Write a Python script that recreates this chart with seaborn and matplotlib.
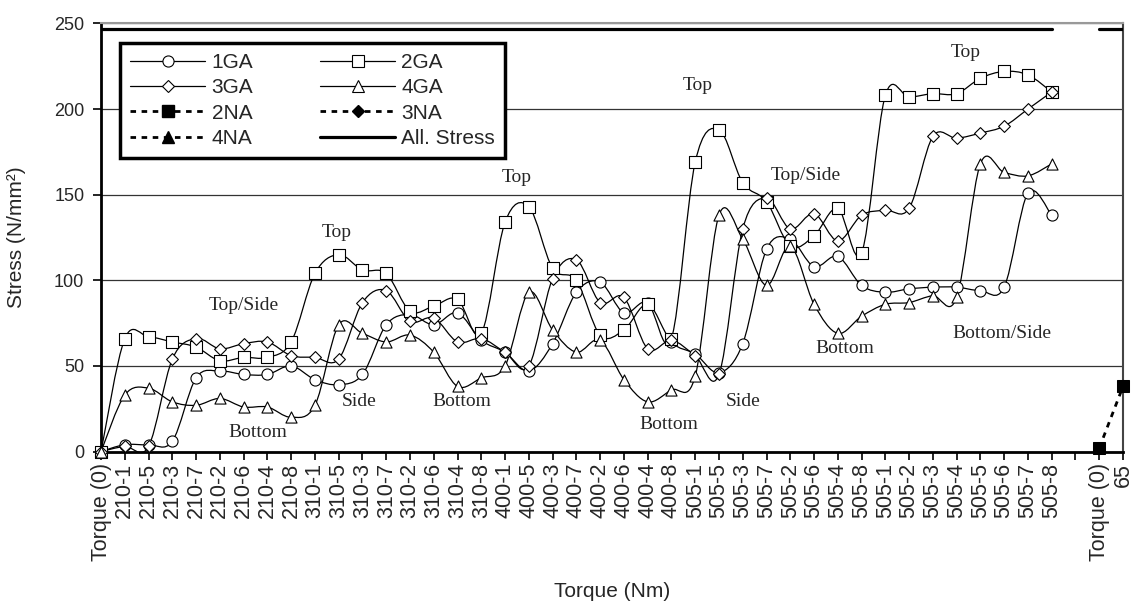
import numpy as np
import pandas as pd
import seaborn as sns
import matplotlib.pyplot as plt
from matplotlib.path import Path
from matplotlib.patches import PathPatch
from matplotlib.lines import Line2D

nan = np.nan

# x categories (one empty slot before the 65 Nm group)
cats = ['Torque (0)',
        '210-1', '210-5', '210-3', '210-7', '210-2', '210-6', '210-4', '210-8',
        '310-1', '310-5', '310-3', '310-7', '310-2', '310-6', '310-4', '310-8',
        '400-1', '400-5', '400-3', '400-7', '400-2', '400-6', '400-4', '400-8',
        '505-1', '505-5', '505-3', '505-7', '505-2', '505-6', '505-4', '505-8',
        '505-1', '505-2', '505-3', '505-4', '505-5', '505-6', '505-7', '505-8',
        '', 'Torque (0)', '65']

ga1 = [0, 4, 4, 6, 43, 47, 45, 45, 50,
       42, 39, 45, 74, 80, 74, 81, 65,
       58, 47, 63, 93, 99, 81, 87, 64,
       57, 46, 63, 118, 124, 108, 114, 97,
       93, 95, 96, 96, 94, 96, 151, 138, nan, nan, nan]
ga2 = [0, 66, 67, 64, 61, 53, 55, 55, 64,
       104, 115, 106, 104, 82, 85, 89, 69,
       134, 143, 107, 100, 68, 71, 86, 66,
       169, 188, 157, 146, 120, 126, 142, 116,
       208, 207, 209, 209, 218, 222, 220, 210, nan, nan, nan]
ga3 = [0, 3, 3, 54, 66, 60, 63, 64, 56,
       55, 54, 87, 94, 76, 78, 64, 66,
       58, 50, 101, 112, 87, 90, 60, 65,
       56, 45, 130, 148, 130, 139, 123, 138,
       141, 142, 184, 183, 186, 190, 200, 210, nan, nan, nan]
ga4 = [0, 33, 37, 29, 27, 31, 26, 26, 20,
       27, 74, 69, 64, 68, 58, 38, 43,
       50, 93, 71, 58, 65, 42, 29, 36,
       44, 138, 124, 97, 120, 86, 69, 79,
       86, 87, 91, 90, 168, 163, 161, 168, nan, nan, nan]
na2 = [nan] * 42 + [2, 38]
na3 = [nan] * 44
na4 = [nan] * 44
allow = [247] * 41 + [nan] + [247] * 2

sns.set_theme(style='ticks')
plt.rcParams['font.family'] = ['Liberation Sans', 'DejaVu Sans']

fig = plt.figure(figsize=(11.34, 6.10), dpi=100)
ax = fig.add_axes([0.0891, 0.2598, 0.9012, 0.7017])

x = np.arange(len(cats))


def smooth(xs, ys, k=1 / 6):
    # Catmull-Rom style bezier through the points (like Excel smoothed lines)
    xs, ys = np.asarray(xs, float), np.asarray(ys, float)
    ok = ~np.isnan(ys)
    p = np.column_stack([xs[ok], ys[ok]])
    n = len(p)
    verts, codes = [p[0]], [Path.MOVETO]
    for i in range(n - 1):
        p0, p1, p2, p3 = p[max(i - 1, 0)], p[i], p[i + 1], p[min(i + 2, n - 1)]
        verts += [p1 + (p2 - p0) * k, p2 - (p3 - p1) * k, p2]
        codes += [Path.CURVE4] * 3
    return Path(verts, codes)


series = [('1GA', ga1, 'o', 8), ('2GA', ga2, 's', 8),
          ('3GA', ga3, 'D', 6), ('4GA', ga4, '^', 8)]
for name, vals, m, ms in series:
    ax.add_patch(PathPatch(smooth(x, vals), fc='none', ec='black', lw=0.9, zorder=3))
    sns.scatterplot(x=x, y=vals, marker=m, s=ms ** 2, color='white', edgecolor='black',
                    linewidth=0.8, ax=ax, zorder=4, clip_on=False)

sns.lineplot(x=x, y=na2, ax=ax, color='black', lw=2, linestyle=(0, (2, 2)), marker='s',
             markersize=8, markerfacecolor='black', markeredgecolor='black',
             errorbar=None, zorder=4, clip_on=False)

df_all = pd.DataFrame({'x': x, 'y': allow, 'seg': np.cumsum(np.isnan(allow))})
sns.lineplot(data=df_all, x='x', y='y', units='seg', estimator=None, ax=ax,
             color='black', lw=2.3, zorder=3)

notes = [('Top/Side', 6.0, 85), ('Top', 9.9, 128), ('Bottom', 6.6, 11), ('Side', 10.85, 29.5),
         ('Top', 17.5, 160), ('Bottom', 15.2, 29.5), ('Top', 25.1, 214), ('Bottom', 23.9, 16),
         ('Side', 27.0, 29.5), ('Top/Side', 29.65, 161.5), ('Bottom', 31.3, 60),
         ('Top', 36.4, 233), ('Bottom/Side', 37.9, 69)]
for t, tx, ty in notes:
    ax.text(tx, ty, t, ha='center', va='center', fontsize=14,
            family=['Liberation Serif', 'DejaVu Serif'], zorder=5)

ax.set_xlim(0, 43)
ax.set_ylim(0, 250)
ax.set_xticks(x)
ax.set_xticklabels(cats, rotation=90)
ax.set_yticks(np.arange(0, 251, 50))
ax.tick_params(axis='both', direction='out', length=6, width=1.2, color='black')
ax.tick_params(axis='x', labelsize=15.5, pad=2)
ax.tick_params(axis='y', labelsize=13, pad=6)
ax.yaxis.grid(True, color='#333333', lw=0.9)
ax.set_axisbelow(True)

for s in ['left', 'bottom']:
    ax.spines[s].set_linewidth(2)
    ax.spines[s].set_color('black')
ax.spines['right'].set_color('#444444')
ax.spines['right'].set_linewidth(1.5)
ax.spines['top'].set_color('#999999')
ax.spines['top'].set_linewidth(1.5)

ax.set_xlabel('Torque (Nm)', fontsize=15)
ax.set_ylabel('Stress (N/mm²)', fontsize=15)
ax.xaxis.set_label_coords(0.5, -0.305)
ax.yaxis.set_label_coords(-0.073, 0.5)

open_kw = dict(color='black', lw=0.9, mfc='white', mec='black', mew=0.8)
na_kw = dict(color='black', lw=2, linestyle=(0, (2, 2)), mfc='black', mec='black')
h1 = Line2D([], [], marker='o', ms=8, **open_kw)
h2 = Line2D([], [], marker='s', ms=8, **open_kw)
h3 = Line2D([], [], marker='D', ms=6, **open_kw)
h4 = Line2D([], [], marker='^', ms=8, **open_kw)
hn2 = Line2D([], [], marker='s', ms=8, **na_kw)
hn3 = Line2D([], [], marker='D', ms=6, **na_kw)
hn4 = Line2D([], [], marker='^', ms=8, **na_kw)
ha = Line2D([], [], color='black', lw=2.3)
leg = ax.legend(handles=[h1, h3, hn2, hn4, h2, h4, hn3, ha],
                labels=['1GA', '3GA', '2NA', '4NA', '2GA', '4GA', '3NA', 'All. Stress'],
                loc='upper left', bbox_to_anchor=(0.0186, 0.955), ncol=2, frameon=True,
                fancybox=False, edgecolor='black', framealpha=1, fontsize=15,
                handlelength=3.6, handletextpad=0.3, columnspacing=3.2,
                labelspacing=0.3, borderpad=0.5, borderaxespad=0)
leg.get_frame().set_linewidth(2.5)
leg.set_zorder(6)

fig.savefig('out.png', dpi=100)
